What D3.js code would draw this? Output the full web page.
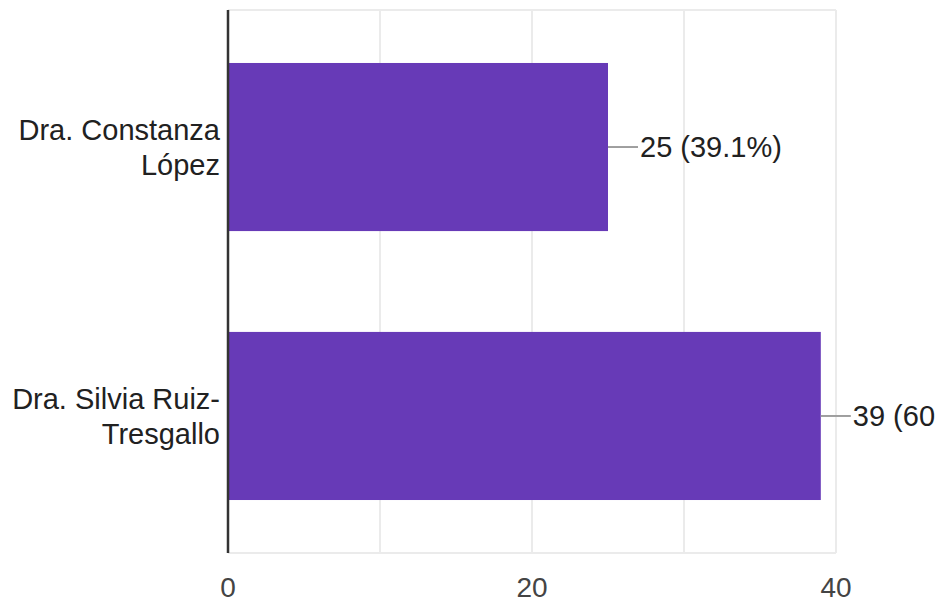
<!DOCTYPE html>
<meta charset="utf-8">
<script src="https://d3js.org/d3.v7.min.js"></script>
<style>
  body { margin: 0; background: #fff; overflow: hidden; }
  text { font-family: "Liberation Sans", Arial, sans-serif; }
</style>
<div id="my_dataviz"></div>
<script>
  // data
  var categories = [["Dra. Constanza", "López"], ["Dra. Silvia Ruiz-", "Tresgallo"]];
  var counts = [25, 39];
  var percents = ["39.1%", "60.9%"];
  var tickValues = [0, 20, 40];
  var gridValues = [0, 10, 20, 30, 40];

  var w = 936, h = 602;
  var margin = { top: 10, right: 100, bottom: 49, left: 228 };

  var svg = d3.select("#my_dataviz")
    .append("svg")
    .attr("width", w)
    .attr("height", h);

  var x = d3.scaleLinear()
    .domain([0, 40])
    .range([margin.left, 836]);

  var y = d3.scaleBand()
    .domain(d3.range(categories.length))
    .range([margin.top, h - margin.bottom])
    .paddingInner(0.375)
    .paddingOuter(0.197);

  // grid
  svg.selectAll("line.grid")
    .data(gridValues.slice(1))
    .enter()
    .append("line")
    .attr("x1", function (d) { return x(d); })
    .attr("x2", function (d) { return x(d); })
    .attr("y1", margin.top)
    .attr("y2", h - margin.bottom)
    .attr("stroke", "#ebebeb")
    .attr("stroke-width", 2);

  svg.append("line")
    .attr("x1", x(0)).attr("x2", x(40))
    .attr("y1", margin.top).attr("y2", margin.top)
    .attr("stroke", "#ebebeb").attr("stroke-width", 2);
  svg.append("line")
    .attr("x1", x(0)).attr("x2", x(40))
    .attr("y1", h - margin.bottom).attr("y2", h - margin.bottom)
    .attr("stroke", "#ebebeb").attr("stroke-width", 2);

  // bars
  svg.selectAll("rect")
    .data(counts)
    .enter()
    .append("rect")
    .attr("x", x(0))
    .attr("y", function (d, i) { return y(i); })
    .attr("width", function (d) { return x(d) - x(0); })
    .attr("height", y.bandwidth())
    .attr("fill", "#673ab7");

  // baseline axis
  svg.append("line")
    .attr("x1", x(0)).attr("x2", x(0))
    .attr("y1", margin.top).attr("y2", h - margin.bottom)
    .attr("stroke", "#333").attr("stroke-width", 2.5);

  // value labels
  counts.forEach(function (d, i) {
    var cy = y(i) + y.bandwidth() / 2;
    svg.append("line")
      .attr("x1", x(d)).attr("x2", x(d) + 30)
      .attr("y1", cy).attr("y2", cy)
      .attr("stroke", "#9e9e9e").attr("stroke-width", 2);
    svg.append("text")
      .attr("x", x(d) + 32)
      .attr("y", cy + 10)
      .attr("font-size", "29px")
      .attr("fill", "#212121")
      .text(d + " (" + percents[i] + ")");
  });

  // category labels
  categories.forEach(function (lines, i) {
    var cy = y(i) + y.bandwidth() / 2;
    lines.forEach(function (t, j) {
      svg.append("text")
        .attr("x", 220)
        .attr("y", cy - 7 + j * 35)
        .attr("text-anchor", "end")
        .attr("font-size", "29px")
        .attr("fill", "#212121")
        .text(t);
    });
  });

  // tick labels
  svg.selectAll("text.tick")
    .data(tickValues)
    .enter()
    .append("text")
    .attr("class", "tick")
    .attr("x", function (d) { return x(d); })
    .attr("y", 597)
    .attr("text-anchor", "middle")
    .attr("font-size", "28px")
    .attr("fill", "#444")
    .text(function (d) { return d; });
</script>
